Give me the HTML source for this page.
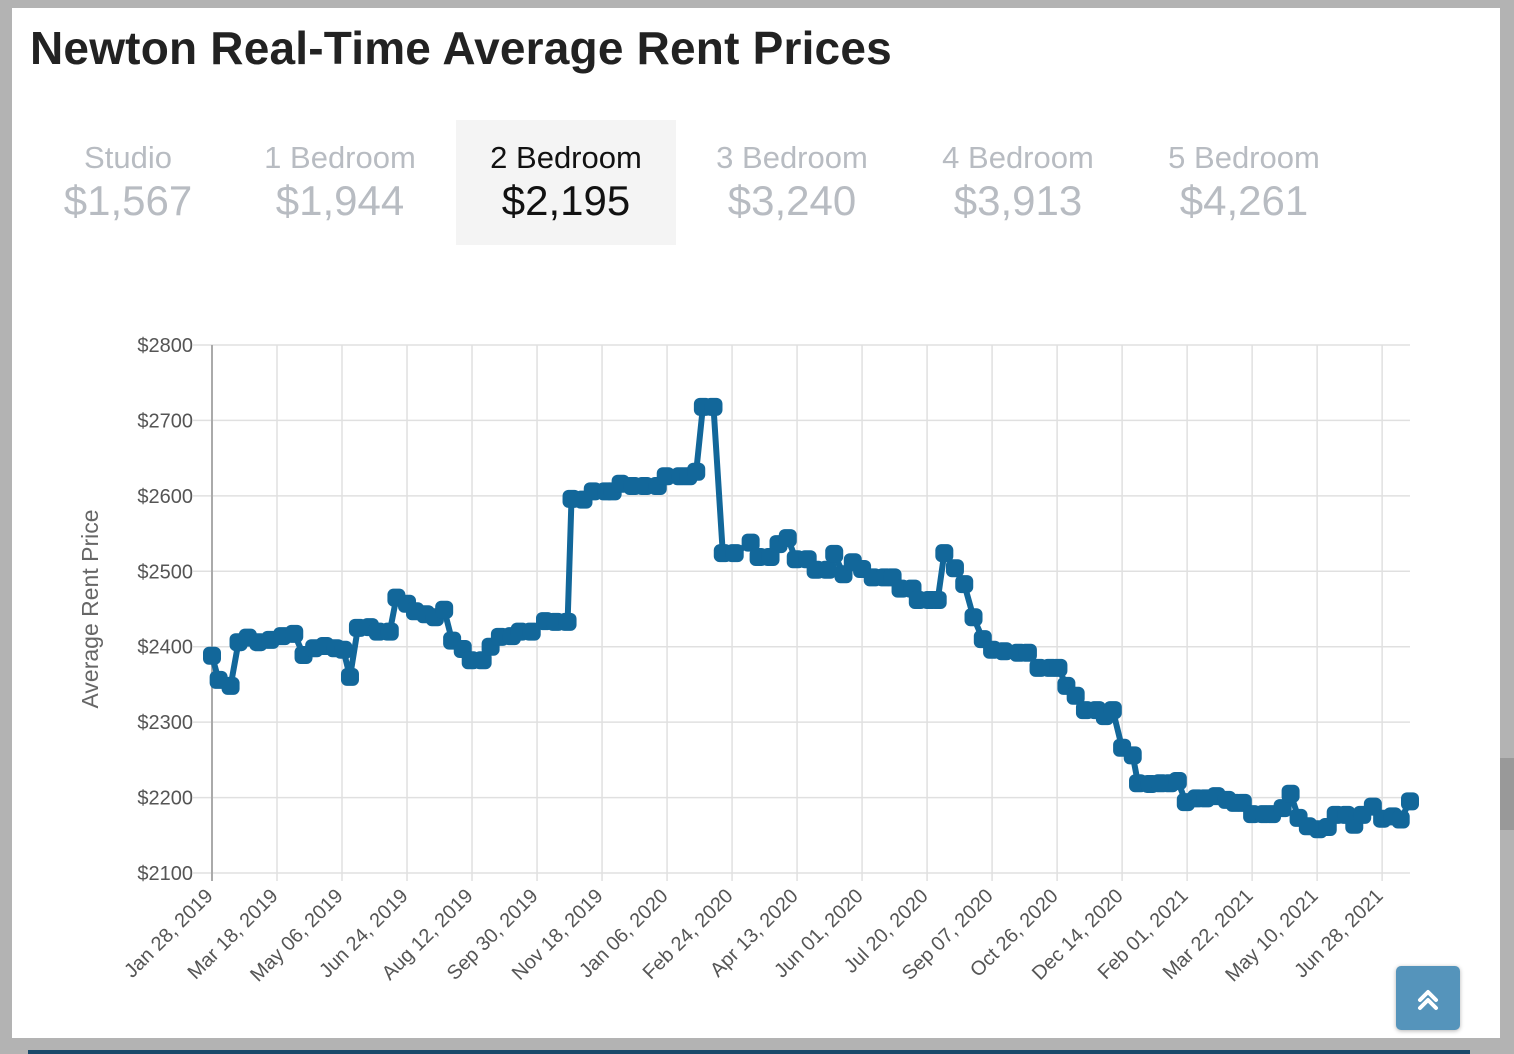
<!DOCTYPE html>
<html><head><meta charset="utf-8">
<style>
body{margin:0;width:1514px;height:1054px;background:#b3b3b3;position:relative;overflow:hidden;font-family:"Liberation Sans",sans-serif;}
#card{position:absolute;left:12px;top:8px;width:1488px;height:1030px;background:#fff;}
h1{position:absolute;left:18px;top:13px;margin:0;font-size:46px;font-weight:bold;color:#222;letter-spacing:0.2px;}
.tab{position:absolute;top:112px;width:220px;height:125px;text-align:center;color:#b8bcc2;}
.tab .n{font-size:31px;margin-top:20px;}
.tab .p{font-size:42px;margin-top:1px;}
.tab.sel{background:#f4f4f4;color:#111;}
#chart{position:absolute;left:0;top:0;}
#top-btn{position:absolute;left:1396px;top:966px;width:64px;height:64px;background:#5594bb;border-radius:5px;box-shadow:0 1px 4px rgba(0,0,0,.3);}
#sb{position:absolute;left:1500px;top:758px;width:14px;height:72px;background:#999;}
#bot{position:absolute;left:28px;top:1050px;width:1442px;height:4px;background:#1a4a6a;}
</style></head><body>
<div id="card">
<h1>Newton Real-Time Average Rent Prices</h1>
<div class="tab" style="left:6px"><div class="n">Studio</div><div class="p">$1,567</div></div>
<div class="tab" style="left:218px"><div class="n">1 Bedroom</div><div class="p">$1,944</div></div>
<div class="tab sel" style="left:444px"><div class="n">2 Bedroom</div><div class="p">$2,195</div></div>
<div class="tab" style="left:670px"><div class="n">3 Bedroom</div><div class="p">$3,240</div></div>
<div class="tab" style="left:896px"><div class="n">4 Bedroom</div><div class="p">$3,913</div></div>
<div class="tab" style="left:1122px"><div class="n">5 Bedroom</div><div class="p">$4,261</div></div>
</div>
<svg id="chart" width="1514" height="1054"></svg>
<div id="top-btn"><svg width="64" height="64"><path d="M24 34 L32 26 L40 34 M24 42 L32 34 L40 42" stroke="#fff" stroke-width="4" fill="none" stroke-linecap="round" stroke-linejoin="round"/></svg></div>
<div id="sb"></div>
<div id="bot"></div>
<script>
const dayOffsets=[0,5,14,20,27,35,44,53,62,69,77,85,93,99,104,110,119,125,134,139,147,153,161,168,175,181,189,195,204,210,217,226,232,241,251,259,268,271,280,287,297,302,308,317,326,336,342,353,359,365,370,378,385,394,406,412,421,427,434,440,449,455,464,469,476,483,490,498,507,513,519,528,532,541,547,552,560,567,574,581,588,597,608,615,623,632,638,644,651,658,667,673,679,686,694,698,707,715,722,728,734,742,749,757,765,771,777,784,793,799,807,813,819,826,834,841,847,855,861,867,875,882,890,896,903];
const rents=[2388,2356,2348,2406,2412,2406,2409,2414,2417,2389,2398,2401,2398,2396,2360,2425,2426,2420,2420,2465,2457,2447,2443,2439,2449,2408,2397,2382,2382,2400,2413,2414,2420,2420,2434,2433,2433,2596,2595,2606,2606,2606,2616,2613,2613,2613,2626,2626,2626,2632,2718,2718,2524,2524,2538,2519,2519,2536,2544,2516,2516,2502,2502,2523,2496,2512,2503,2492,2492,2492,2477,2477,2462,2462,2462,2524,2504,2483,2439,2410,2396,2394,2392,2392,2372,2372,2372,2348,2335,2316,2316,2308,2316,2266,2256,2219,2218,2219,2219,2222,2194,2199,2199,2202,2197,2193,2193,2178,2178,2178,2186,2205,2173,2162,2158,2161,2177,2177,2164,2177,2188,2172,2175,2171,2195];
const yTicks=[2100,2200,2300,2400,2500,2600,2700,2800];
const xTickLabels=["Jan 28, 2019","Mar 18, 2019","May 06, 2019","Jun 24, 2019","Aug 12, 2019","Sep 30, 2019","Nov 18, 2019","Jan 06, 2020","Feb 24, 2020","Apr 13, 2020","Jun 01, 2020","Jul 20, 2020","Sep 07, 2020","Oct 26, 2020","Dec 14, 2020","Feb 01, 2021","Mar 22, 2021","May 10, 2021","Jun 28, 2021"];
const tickStepDays=49;

const svg=document.getElementById('chart');
const NS='http://www.w3.org/2000/svg';
const X0=212,X1=1410,Y0=873,Y1=345,DMAX=903,VMIN=2100,VMAX=2800;
const xs=d=>X0+(d/DMAX)*(X1-X0);
const ys=v=>Y0-(v-VMIN)/(VMAX-VMIN)*(Y0-Y1);
function mk(tag,attrs){const e=document.createElementNS(NS,tag);for(const k in attrs)e.setAttribute(k,attrs[k]);svg.appendChild(e);return e;}
yTicks.forEach(v=>{
  const l=mk('line',{x1:193,x2:X1,y1:ys(v),y2:ys(v),stroke:'#e0e0e0','stroke-width':1.5});
  
  
  const t=mk('text',{x:193,y:ys(v)+7,'text-anchor':'end','font-size':20,fill:'#555','font-family':'Liberation Sans, sans-serif'});
  t.textContent='$'+v;
  
  
});
xTickLabels.forEach((lab,i)=>{
  const x=xs(i*tickStepDays);
  const l=mk('line',{x1:x,x2:x,y1:Y1,y2:Y0+8,stroke:'#e0e0e0','stroke-width':1.5});
  
  
  const t=mk('text',{x:x+2,y:Y0+24,'text-anchor':'end','font-size':20,fill:'#555','font-family':'Liberation Sans, sans-serif',transform:`rotate(-45 ${x+2} ${Y0+24})`});
  t.textContent=lab;
  
  
});
const ax=mk('line',{x1:X0,x2:X0,y1:Y1,y2:Y0+8,stroke:'#aaa','stroke-width':2});


const yt=mk('text',{x:98,y:609,'text-anchor':'middle','font-size':23,fill:'#666','font-family':'Liberation Sans, sans-serif',transform:'rotate(-90 98 609)'});
yt.textContent='Average Rent Price';


const pts=dayOffsets.map((d,i)=>xs(d).toFixed(1)+','+ys(rents[i]).toFixed(1)).join(' ');
const pl=mk('polyline',{points:pts,fill:'none',stroke:'#12679a','stroke-width':6,'stroke-linejoin':'round'});


dayOffsets.forEach((d,i)=>{
  const r=mk('rect',{x:xs(d)-9,y:ys(rents[i])-9,width:18,height:18,rx:6,fill:'#12679a'});
  
  
});
</script>
</body></html>
